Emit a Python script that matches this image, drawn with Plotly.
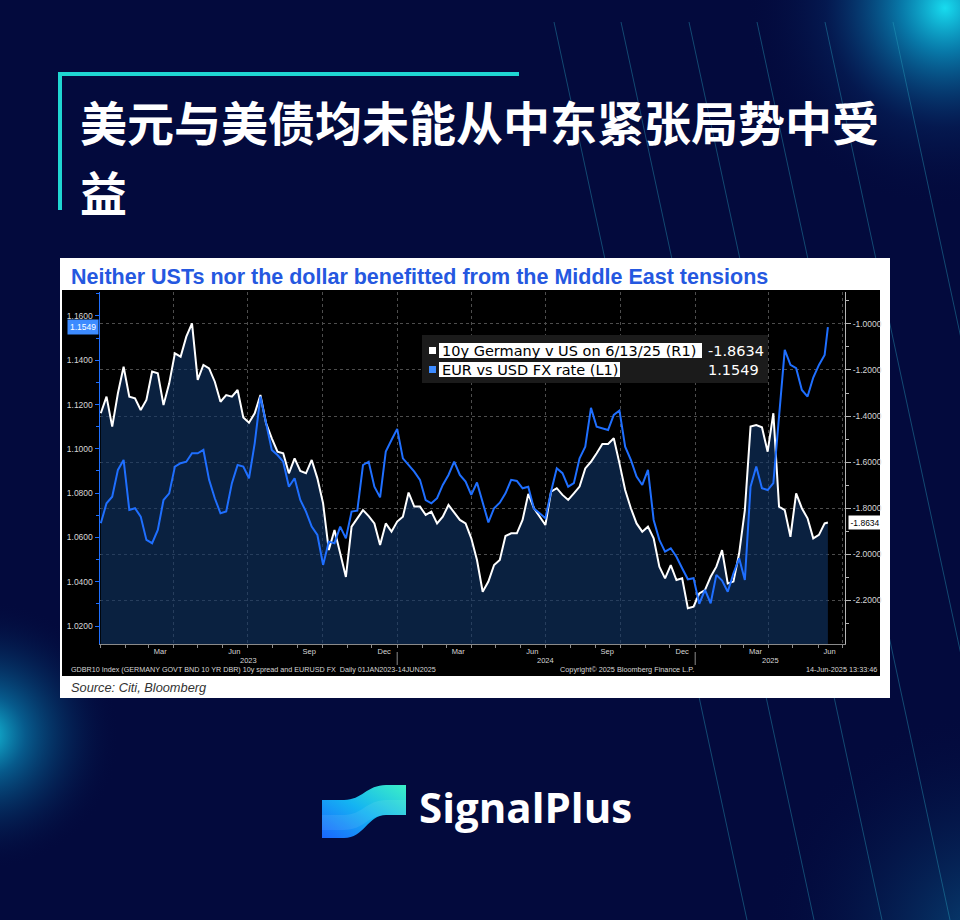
import base64
import pandas as pd
import plotly.graph_objects as go

W, H = 960, 920

# ---------------- data ----------------
week_dates = list(pd.date_range("2023-01-02", periods=128, freq="7D").strftime("%Y-%m-%d")) + ["2025-06-13"]

# 10y Germany v US spread (right axis, R1)
bund_us_spread = [
    -1.388, -1.316, -1.446, -1.301, -1.186, -1.316, -1.323, -1.374, -1.330, -1.207,
    -1.214, -1.352, -1.258, -1.128, -1.142, -1.055, -0.997, -1.243, -1.178, -1.193,
    -1.251, -1.338, -1.309, -1.316, -1.287, -1.406, -1.429, -1.388, -1.309, -1.432,
    -1.497, -1.555, -1.562, -1.649, -1.584, -1.639, -1.649, -1.591, -1.671, -1.780,
    -1.983, -1.896, -1.997, -2.100, -1.881, -1.845, -1.809, -1.835, -1.867, -1.961,
    -1.867, -1.903, -1.859, -1.838, -1.733, -1.794, -1.794, -1.830, -1.816, -1.867,
    -1.838, -1.787, -1.820, -1.852, -1.867, -1.932, -2.026, -2.164, -2.120, -2.048,
    -2.026, -1.922, -1.910, -1.910, -1.852, -1.739, -1.801, -1.838, -1.874, -1.729,
    -1.714, -1.743, -1.765, -1.736, -1.707, -1.628, -1.599, -1.562, -1.522, -1.522,
    -1.497, -1.606, -1.722, -1.801, -1.867, -1.903, -1.881, -1.932, -2.055, -2.106,
    -2.048, -2.113, -2.106, -2.236, -2.229, -2.171, -2.157, -2.099, -2.055, -1.983,
    -2.128, -2.120, -1.997, -1.809, -1.446, -1.439, -1.449, -1.555, -1.388, -1.794,
    -1.809, -1.925, -1.736, -1.801, -1.845, -1.932, -1.917, -1.867,
    -1.8634,
]

# EUR vs USD FX rate (left axis, L1)
eur_usd = [
    1.0664, 1.0754, 1.0784, 1.0905, 1.0950, 1.0724, 1.0732, 1.0694, 1.0589, 1.0574,
    1.0634, 1.0769, 1.0799, 1.0920, 1.0935, 1.0942, 1.0980, 1.0980, 1.0995, 1.0860,
    1.0777, 1.0709, 1.0717, 1.0845, 1.0927, 1.0920, 1.0867, 1.1025, 1.1236, 1.1115,
    1.0995, 1.0972, 1.0942, 1.0829, 1.0867, 1.0769, 1.0717, 1.0649, 1.0611, 1.0476,
    1.0581, 1.0574, 1.0649, 1.0596, 1.0717, 1.0721, 1.0927, 1.0942, 1.0829, 1.0781,
    1.0988, 1.1040, 1.1090, 1.0957, 1.0927, 1.0897, 1.0860, 1.0769, 1.0754, 1.0777,
    1.0837, 1.0882, 1.0942, 1.0882, 1.0852, 1.0792, 1.0848, 1.0754, 1.0668, 1.0732,
    1.0757, 1.0799, 1.0860, 1.0855, 1.0822, 1.0829, 1.0730, 1.0709, 1.0687, 1.0807,
    1.0912, 1.0890, 1.0829, 1.0845, 1.0957, 1.1010, 1.1185, 1.1100, 1.1093, 1.1085,
    1.1153, 1.1173, 1.1010, 1.0950, 1.0875, 1.0837, 1.0905, 1.0679, 1.0589, 1.0536,
    1.0551, 1.0513, 1.0461, 1.0411, 1.0416, 1.0300, 1.0363, 1.0303, 1.0431, 1.0405,
    1.0355, 1.0438, 1.0506, 1.0408, 1.0829, 1.0920, 1.0822, 1.0814, 1.0845, 1.1146,
    1.1447, 1.1379, 1.1364, 1.1266, 1.1236, 1.1322, 1.1379, 1.1424,
    1.1549,
]

spread_name = "10y Germany v US on 6/13/25 (R1)"
fx_name = "EUR vs USD FX rate (L1)"
last_spread_label = "-1.8634"
last_fx_label = "1.1549"

right_ticks = [-2.2, -2.0, -1.8, -1.6, -1.4, -1.2, -1.0]
right_tick_labels = ["-2.2000", "-2.0000", "-1.8000", "-1.6000", "-1.4000", "-1.2000", "-1.0000"]

month_ticks = ["2023-03-16", "2023-06-15", "2023-09-15", "2023-12-16", "2024-03-16",
               "2024-06-15", "2024-09-15", "2024-12-16", "2025-03-16", "2025-06-15"]
month_labels = ["Mar", "Jun", "Sep", "Dec", "Mar", "Jun", "Sep", "Dec", "Mar", "Jun"]
year_ticks = ["2023-07-02", "2024-07-01", "2025-04-03"]
year_labels = ["2023", "2024", "2025"]
year_breaks = ["2024-01-01", "2025-01-01"]

X_RANGE = ["2023-01-01", "2025-07-04"]
Y_RIGHT_RANGE = [-2.3913, -0.8609]
Y_LEFT_RANGE = [1.0119, 1.1708]

# ---------------- helpers ----------------
def fx(px):
    return px / W


def fy(py):
    return 1 - py / H


def svg_uri(svg):
    return "data:image/svg+xml;base64," + base64.b64encode(svg.encode("utf-8")).decode("ascii")


NAVY = "#030a3d"
TEAL = "#1fd6d2"
BLUE = "#1f6fff"
GRID = "#4d4d4d"
AXG = "#b5b5b5"
TICKFONT = dict(family="Liberation Sans, Arial, sans-serif", size=8.5, color="#d6d6d6")

# background decoration (glows + thin diagonal lines)
line_starts = [554, 621, 689, 757, 825, 893]
lines_svg = "".join(
    f"<line x1='{x}' y1='22' x2='{x + 193}' y2='920'/>" for x in line_starts
)
bg_svg = f"""<svg xmlns='http://www.w3.org/2000/svg' width='960' height='920' viewBox='0 0 960 920' preserveAspectRatio='none'>
<defs>
<radialGradient id='a' gradientUnits='userSpaceOnUse' cx='945' cy='8' r='200'>
<stop offset='0' stop-color='#18dcef' stop-opacity='1'/>
<stop offset='0.22' stop-color='#0aa8d6' stop-opacity='0.7'/>
<stop offset='0.6' stop-color='#0a4b8e' stop-opacity='0.22'/>
<stop offset='1' stop-color='{NAVY}' stop-opacity='0'/>
</radialGradient>
<radialGradient id='b' gradientUnits='userSpaceOnUse' cx='-15' cy='735' r='135'>
<stop offset='0' stop-color='#17d3ea' stop-opacity='0.95'/>
<stop offset='0.3' stop-color='#0a9ccc' stop-opacity='0.55'/>
<stop offset='1' stop-color='{NAVY}' stop-opacity='0'/>
</radialGradient>
<radialGradient id='c' gradientUnits='userSpaceOnUse' cx='990' cy='940' r='230'>
<stop offset='0' stop-color='#0e8fbf' stop-opacity='0.45'/>
<stop offset='1' stop-color='{NAVY}' stop-opacity='0'/>
</radialGradient>
</defs>
<rect width='960' height='920' fill='{NAVY}'/>
<rect width='960' height='920' fill='url(#a)'/>
<rect width='960' height='920' fill='url(#b)'/>
<rect width='960' height='920' fill='url(#c)'/>
<g stroke='#2aa7c0' stroke-opacity='0.45' stroke-width='0.9' fill='none'>{lines_svg}</g>
</svg>"""

logo_svg = """<svg xmlns='http://www.w3.org/2000/svg' width='84' height='53' viewBox='0 0 84 53' preserveAspectRatio='none'>
<defs><linearGradient id='g' x1='0' y1='1' x2='1' y2='0'>
<stop offset='0' stop-color='#1a66ff'/><stop offset='0.5' stop-color='#14b4f2'/><stop offset='1' stop-color='#3cf0c6'/>
</linearGradient></defs>
<path d='M0,15 L22,15 C40,15 45,0 64,0 L84,0 L84,30 L64,30 C46,30 42,53 22,53 L0,53 Z' fill='url(#g)'/>
<path d='M0,30 L22,30 C40,30 45,15 64,15 L84,15 L84,30 L64,30 C46,30 42,45 22,45 L0,45 Z' fill='#ffffff' fill-opacity='0.08'/>
</svg>"""

# ---------------- figure ----------------
fig = go.Figure()

floor = [Y_RIGHT_RANGE[0]] * len(week_dates)
fig.add_trace(go.Scatter(x=week_dates, y=floor, mode="lines", line=dict(width=0, color="rgba(0,0,0,0)"),
                         hoverinfo="skip", showlegend=False, xaxis="x", yaxis="y"))
fig.add_trace(go.Scatter(x=week_dates, y=bund_us_spread, name=spread_name, mode="lines",
                         line=dict(color="#ffffff", width=2), fill="tonexty",
                         fillcolor="rgba(16,54,104,0.62)", xaxis="x", yaxis="y"))
fig.add_trace(go.Scatter(x=week_dates, y=eur_usd, name=fx_name, mode="lines",
                         line=dict(color=BLUE, width=2), xaxis="x2", yaxis="y2"))

shapes = [
    # white card and black chart panel
    dict(type="rect", xref="paper", yref="paper", x0=fx(60), x1=fx(890), y0=fy(698), y1=fy(258),
         fillcolor="#ffffff", line=dict(width=0), layer="below"),
    dict(type="rect", xref="paper", yref="paper", x0=fx(62), x1=fx(880), y0=fy(676), y1=fy(290),
         fillcolor="#000000", line=dict(width=0), layer="below"),
    # teal accent
    dict(type="rect", xref="paper", yref="paper", x0=fx(58), x1=fx(519), y0=fy(76), y1=fy(72),
         fillcolor=TEAL, line=dict(width=0)),
    dict(type="rect", xref="paper", yref="paper", x0=fx(58), x1=fx(62), y0=fy(210), y1=fy(72),
         fillcolor=TEAL, line=dict(width=0)),
    # legend panel
    dict(type="rect", xref="paper", yref="paper", x0=fx(422), x1=fx(768), y0=fy(383), y1=fy(335),
         fillcolor="#1b1b1b", line=dict(width=0), layer="above"),
    dict(type="rect", xref="paper", yref="paper", x0=fx(439), x1=fx(702), y0=fy(358), y1=fy(343),
         fillcolor="#ffffff", line=dict(width=0), layer="above"),
    dict(type="rect", xref="paper", yref="paper", x0=fx(439), x1=fx(620), y0=fy(377), y1=fy(362),
         fillcolor="#ffffff", line=dict(width=0), layer="above"),
    dict(type="rect", xref="paper", yref="paper", x0=fx(429), x1=fx(436), y0=fy(354), y1=fy(347),
         fillcolor="#ffffff", line=dict(width=0), layer="above"),
    dict(type="rect", xref="paper", yref="paper", x0=fx(429), x1=fx(436), y0=fy(373), y1=fy(366),
         fillcolor="#3d8bff", line=dict(width=0), layer="above"),
]
for d in year_breaks:
    shapes.append(dict(type="line", xref="x", yref="paper", x0=d, x1=d, y0=fy(665), y1=fy(652),
                       line=dict(color="#8a8a8a", width=1)))

annotations = [
    dict(text="<b>美元与美债均未能从中东紧张局势中受</b>", x=fx(78), y=fy(121), xref="paper", yref="paper",
         xanchor="left", yanchor="middle", showarrow=False,
         font=dict(family="Noto Sans CJK SC", size=47, color="#ffffff")),
    dict(text="<b>益</b>", x=fx(78), y=fy(190), xref="paper", yref="paper",
         xanchor="left", yanchor="middle", showarrow=False,
         font=dict(family="Noto Sans CJK SC", size=47, color="#ffffff")),
    dict(text="<b>Neither USTs nor the dollar benefitted from the Middle East tensions</b>",
         x=fx(69), y=fy(277), xref="paper", yref="paper", xanchor="left", yanchor="middle",
         showarrow=False, font=dict(family="Liberation Sans, Arial, sans-serif", size=21.5, color="#2558e0")),
    dict(text="<i>Source: Citi, Bloomberg</i>", x=fx(69), y=fy(687), xref="paper", yref="paper",
         xanchor="left", yanchor="middle", showarrow=False,
         font=dict(family="Liberation Sans, Arial, sans-serif", size=12.8, color="#333333")),
    # legend text
    dict(text=spread_name, x=fx(440), y=fy(350.5), xref="paper", yref="paper", xanchor="left",
         yanchor="middle", showarrow=False, font=dict(family="DejaVu Sans", size=14.5, color="#000000")),
    dict(text=fx_name, x=fx(440), y=fy(369.5), xref="paper", yref="paper", xanchor="left",
         yanchor="middle", showarrow=False, font=dict(family="DejaVu Sans", size=14.5, color="#000000")),
    dict(text=last_spread_label, x=fx(706), y=fy(350.5), xref="paper", yref="paper", xanchor="left",
         yanchor="middle", showarrow=False, font=dict(family="DejaVu Sans", size=14.5, color="#ffffff")),
    dict(text=last_fx_label, x=fx(706), y=fy(369.5), xref="paper", yref="paper", xanchor="left",
         yanchor="middle", showarrow=False, font=dict(family="DejaVu Sans", size=14.5, color="#ffffff")),
    # last value tags on axes
    dict(text=last_fx_label, x=fx(99), y=eur_usd[-1], xref="paper", yref="y2", xanchor="right",
         yanchor="middle", showarrow=False, bgcolor="#3d8bff", borderpad=2,
         font=dict(family="Liberation Sans, Arial, sans-serif", size=8.5, color="#ffffff")),
    dict(text=last_spread_label, x=fx(848), y=bund_us_spread[-1], xref="paper", yref="y", xanchor="left",
         yanchor="middle", showarrow=False, bgcolor="#ffffff", borderpad=1.5,
         font=dict(family="Liberation Sans, Arial, sans-serif", size=8.5, color="#000000")),
    # footer line of the terminal chart
    dict(text="GDBR10 Index (GERMANY GOVT BND 10 YR DBR) 10y spread and EURUSD FX\u00a0\u00a0Daily 01JAN2023-14JUN2025",
         x=fx(69), y=fy(669.5), xref="paper", yref="paper", xanchor="left", yanchor="middle",
         showarrow=False, font=dict(family="Liberation Sans, Arial, sans-serif", size=7.2, color="#d6d6d6")),
    dict(text="Copyright\u00a9 2025 Bloomberg Finance L.P.", x=fx(627), y=fy(669.5), xref="paper", yref="paper",
         xanchor="center", yanchor="middle", showarrow=False,
         font=dict(family="Liberation Sans, Arial, sans-serif", size=7.3, color="#d6d6d6")),
    dict(text="14-Jun-2025 13:33:46", x=fx(879), y=fy(669.5), xref="paper", yref="paper",
         xanchor="right", yanchor="middle", showarrow=False,
         font=dict(family="Liberation Sans, Arial, sans-serif", size=7.3, color="#d6d6d6")),
    # brand
    dict(text="<b>SignalPlus</b>", x=fx(417), y=fy(806), xref="paper", yref="paper", xanchor="left",
         yanchor="middle", showarrow=False, font=dict(family="Open Sans, Lato, sans-serif", size=42, color="#ffffff")),
]
for d, t in zip(year_ticks, year_labels):
    annotations.append(dict(text=t, x=d, y=fy(660), xref="x", yref="paper", xanchor="center",
                            yanchor="middle", showarrow=False,
                            font=dict(family="Liberation Sans, Arial, sans-serif", size=7.5, color="#d6d6d6")))

images = [
    dict(source=svg_uri(bg_svg), xref="paper", yref="paper", x=0, y=1, sizex=1, sizey=1,
         xanchor="left", yanchor="top", sizing="stretch", layer="below"),
    dict(source=svg_uri(logo_svg), xref="paper", yref="paper", x=fx(322), y=fy(785),
         sizex=84 / W, sizey=53 / H, xanchor="left", yanchor="top", sizing="stretch", layer="above"),
]

fig.update_layout(
    width=W, height=H, margin=dict(l=0, r=0, t=0, b=0),
    paper_bgcolor=NAVY, plot_bgcolor="#000000", showlegend=False,
    xaxis=dict(domain=[fx(100), fx(845)], range=X_RANGE, type="date", anchor="y",
               tickmode="array", tickvals=month_ticks, ticktext=month_labels, ticks="",
               showgrid=False, zeroline=False, showline=True, linecolor="#8a8a8a", linewidth=1,
               tickfont=dict(family="Liberation Sans, Arial, sans-serif", size=7.5, color="#d6d6d6")),
    xaxis2=dict(overlaying="x", range=X_RANGE, type="date", anchor="y2", side="bottom",
                tickmode="linear", tick0="2023-01-01", dtick="M3", ticks="outside", ticklen=3,
                tickcolor="#8a8a8a", showticklabels=False, showgrid=True, gridcolor=GRID,
                griddash="dot", gridwidth=1, zeroline=False, showline=False,
                minor=dict(tickmode="linear", tick0="2023-01-01", dtick="M1", ticks="outside",
                           ticklen=3, tickcolor="#8a8a8a", showgrid=False)),
    yaxis=dict(domain=[fy(644), fy(292)], range=Y_RIGHT_RANGE, side="right", anchor="x",
               tickmode="array", tickvals=right_ticks, ticktext=right_tick_labels,
               ticks="outside", ticklen=5, tickcolor=AXG, showline=True, linecolor=AXG, linewidth=1,
               showgrid=True, gridcolor=GRID, griddash="dot", gridwidth=1, zeroline=False,
               tickfont=TICKFONT,
               minor=dict(tickmode="linear", tick0=-1.0, dtick=0.1, ticks="outside", ticklen=3,
                          tickcolor=AXG, showgrid=False)),
    yaxis2=dict(overlaying="y", range=Y_LEFT_RANGE, side="left", anchor="x2",
                tickmode="linear", tick0=1.02, dtick=0.02, tickformat=".4f",
                ticks="outside", ticklen=4, tickcolor=BLUE, showline=True, linecolor=BLUE, linewidth=1.5,
                showgrid=False, zeroline=False, tickfont=TICKFONT,
                minor=dict(tickmode="linear", tick0=1.0, dtick=0.01, ticks="outside", ticklen=2.5,
                           tickcolor=BLUE, showgrid=False)),
    shapes=shapes, annotations=annotations, images=images,
)

fig.write_html(
    "out.html",
    config={"displayModeBar": False, "staticPlot": True},
    post_script="document.body.style.margin='0';document.body.style.padding='0';"
                "document.body.style.overflow='hidden';document.body.style.background='" + NAVY + "';",
)
